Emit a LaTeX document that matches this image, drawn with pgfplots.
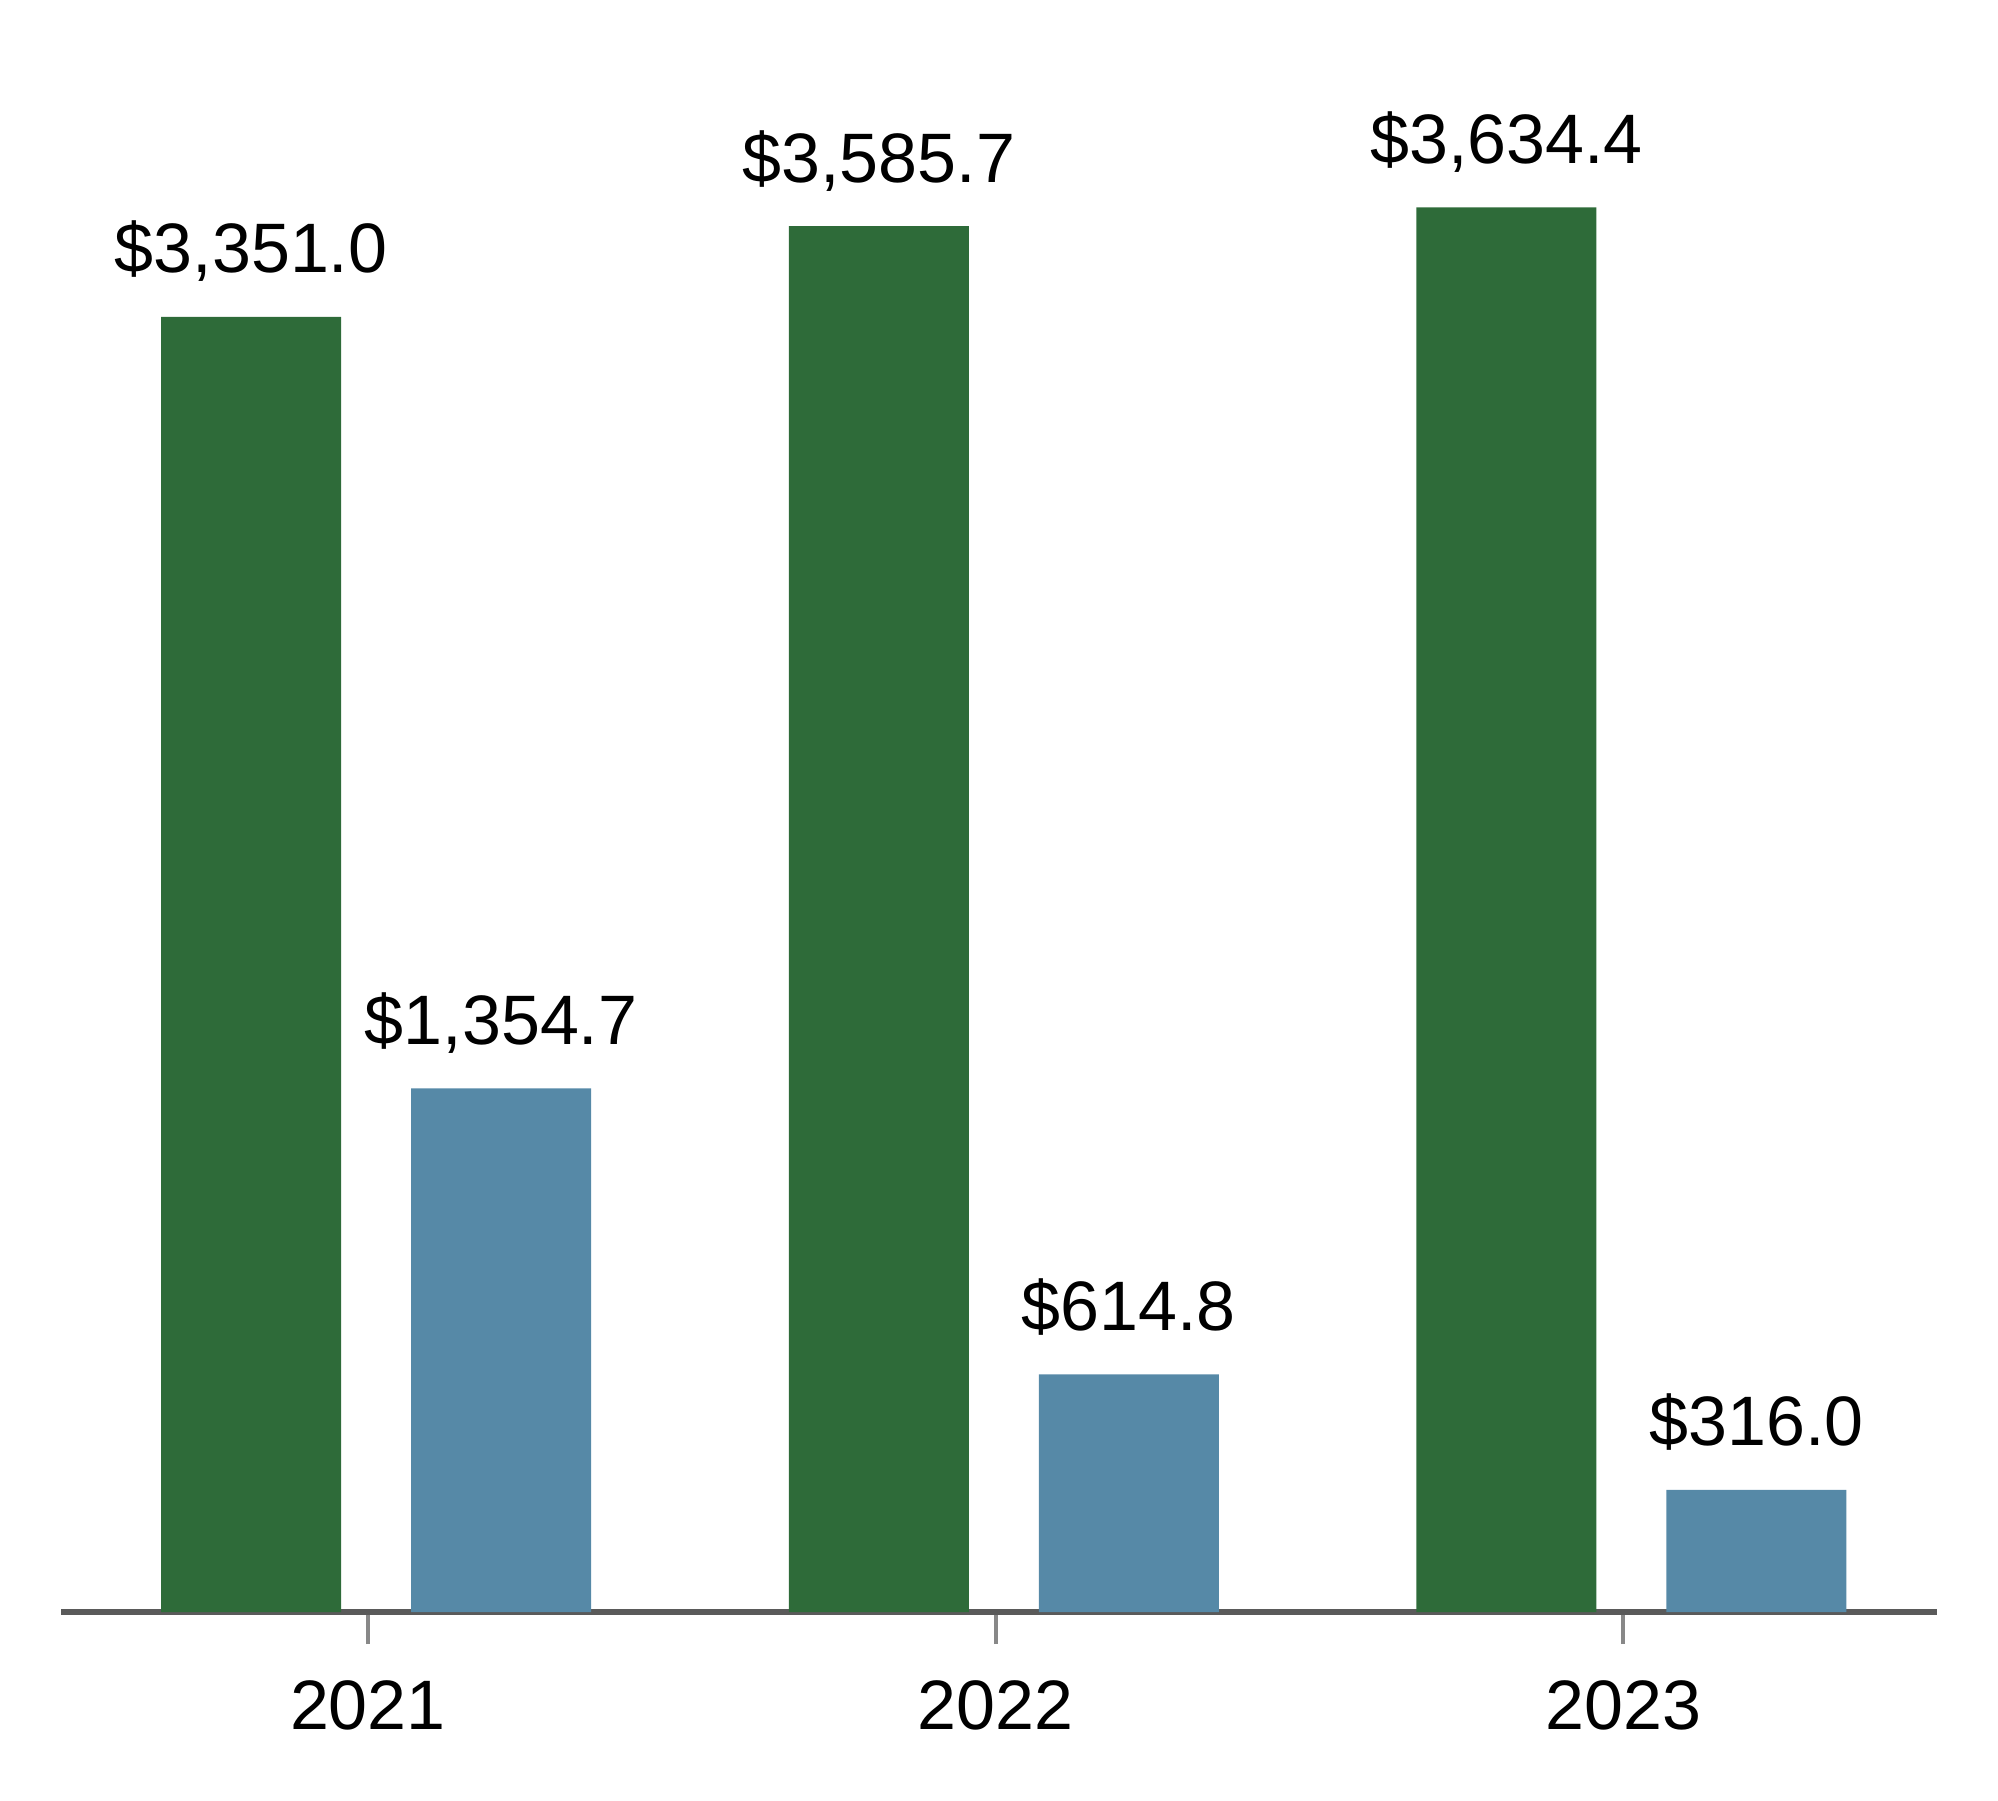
\documentclass[border=0pt]{standalone}
\usepackage{pgfplots}
\pgfplotsset{compat=1.18}
\usepackage{fontspec}
\setmainfont{Liberation Sans}
\definecolor{barg}{RGB}{46,107,57}
\definecolor{barb}{RGB}{86,137,167}
\definecolor{axg}{RGB}{90,90,90}
\definecolor{tickg}{RGB}{136,136,136}
\begin{document}
\begin{tikzpicture}
\begin{axis}[
  scale only axis, width=469pt, height=403pt,
  xmin=-0.489, xmax=2.5, ymin=0, ymax=4171,
  ybar, bar width=45pt,
  axis x line*=bottom, axis y line=none,
  x axis line style={color=axg, line width=1.5pt, -},
  xtick={0,1,2}, xticklabels={2021,2022,2023},
  tick align=outside, major tick length=8pt,
  xtick style={color=tickg, line width=1pt},
  ytick=\empty,
  xticklabel style={font=\fontsize{17.5}{20}\selectfont, text=black, yshift=-5.5pt},
  /pgf/number format/assume math mode=true,
  point meta=y,
  nodes near coords={\$\pgfmathprintnumber[fixed,fixed zerofill,precision=1,1000 sep={,}]{\pgfplotspointmeta}},
  nodes near coords align={anchor=base},
  every node near coord/.append style={font=\fontsize{17.5}{20}\selectfont, text=black, yshift=11pt},
  clip=false,
]
\addplot[fill=barg, draw=none, bar shift=-29.2pt] coordinates {(0,3351.0) (1,3585.7) (2,3634.4)};
\addplot[fill=barb, draw=none, bar shift=33.3pt] coordinates {(0,1354.7) (1,614.8) (2,316.0)};
\end{axis}
\path[use as bounding box] (-15.25pt,-47pt) rectangle (484.25pt,403pt);
\end{tikzpicture}
\end{document}
